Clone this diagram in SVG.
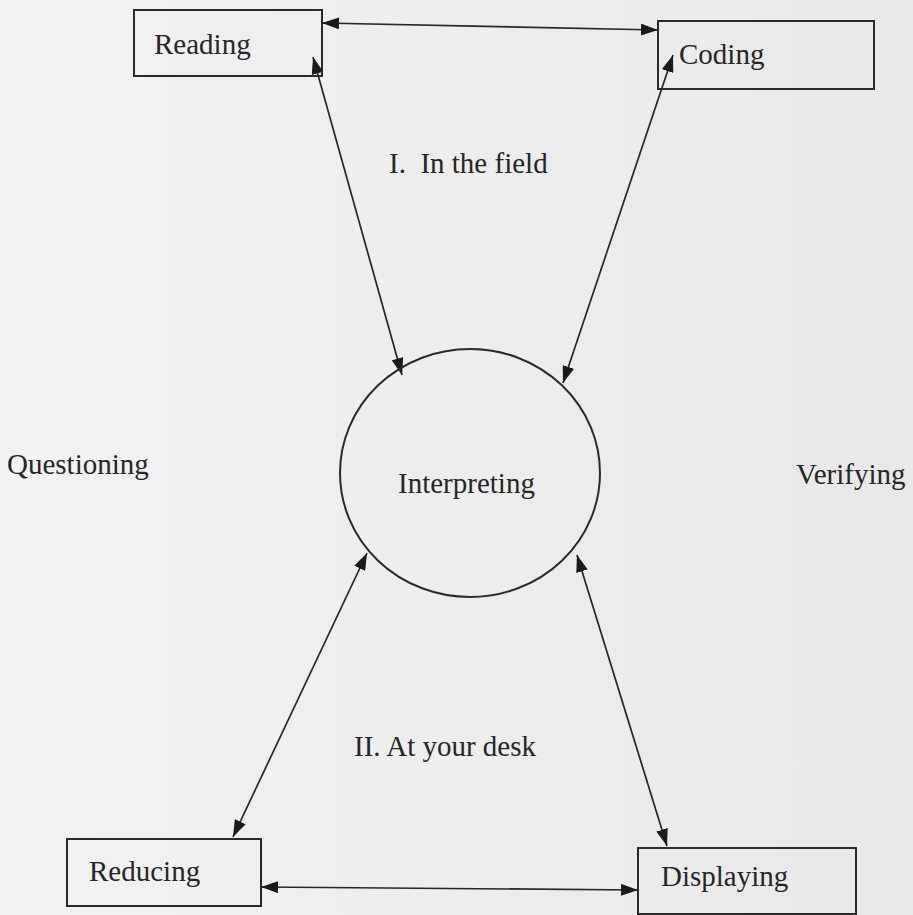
<svg xmlns="http://www.w3.org/2000/svg" width="913" height="915" viewBox="0 0 913 915">
<defs>
<linearGradient id="bg" x1="0" y1="0" x2="1" y2="0">
<stop offset="0" stop-color="#f2f2f2"/>
<stop offset="0.3" stop-color="#efefef"/>
<stop offset="1" stop-color="#e8e8e8"/>
</linearGradient>
<marker id="ah" viewBox="0 0 17 12" refX="17" refY="6" markerWidth="17" markerHeight="12" markerUnits="userSpaceOnUse" orient="auto-start-reverse">
<path d="M0,0 L17,6 L0,12 z" fill="#1a1a1a"/>
</marker>
<style>
.box{fill:none;stroke:#2a2a2a;stroke-width:2}
.lbl{font-family:"Liberation Serif","Times New Roman",serif;font-size:29px;fill:#262626}
.con{stroke:#262626;stroke-width:1.7;fill:none;marker-start:url(#ah);marker-end:url(#ah)}
</style>
</defs>
<rect x="0" y="0" width="913" height="915" fill="url(#bg)"/>
<g id="connectors">
<line class="con" x1="322" y1="23" x2="658" y2="30"/>
<line class="con" x1="313" y1="57" x2="402" y2="375"/>
<line class="con" x1="673" y1="55" x2="563" y2="383"/>
<line class="con" x1="367" y1="553" x2="233" y2="837"/>
<line class="con" x1="577" y1="555" x2="667" y2="846"/>
<line class="con" x1="261" y1="887" x2="638" y2="890"/>
</g>
<g id="reading">
<rect class="box" x="134" y="10" width="188" height="66"/>
<text class="lbl" x="154" y="54">Reading</text>
</g>
<g id="coding">
<rect class="box" x="658" y="21" width="216" height="68"/>
<text class="lbl" x="679" y="64">Coding</text>
</g>
<g id="interpreting">
<ellipse class="box" cx="470" cy="473" rx="130" ry="124"/>
<text class="lbl" x="398" y="493">Interpreting</text>
</g>
<g id="reducing">
<rect class="box" x="67" y="839" width="194" height="67"/>
<text class="lbl" x="89" y="881">Reducing</text>
</g>
<g id="displaying">
<rect class="box" x="638" y="848" width="218" height="66"/>
<text class="lbl" x="661" y="886">Displaying</text>
</g>
<g id="labels">
<text class="lbl" x="7" y="474">Questioning</text>
<text class="lbl" x="796" y="484">Verifying</text>
<text class="lbl" x="389" y="173" xml:space="preserve">I.  In the field</text>
<text class="lbl" x="354" y="756">II. At your desk</text>
</g>
</svg>
